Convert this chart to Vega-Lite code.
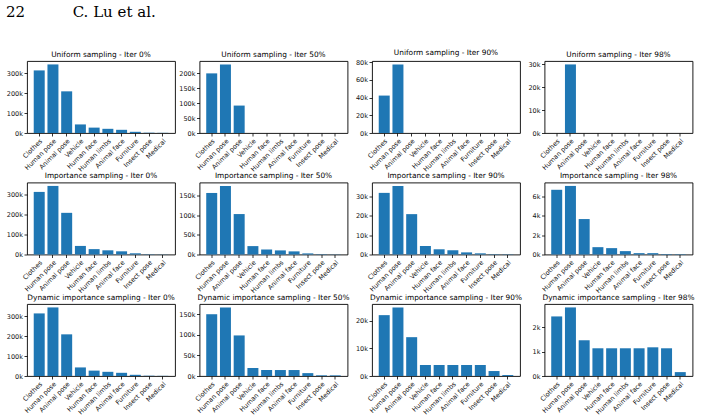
{
  "$schema": "https://vega.github.io/schema/vega-lite/v6.json",
  "padding": {"left": 5, "top": 5, "right": 5, "bottom": 5},
  "background": "white",
  "title": {"text": "22\u00a0\u00a0\u00a0\u00a0\u00a0\u00a0\u00a0\u00a0\u00a0\u00a0C. Lu et al.", "anchor": "start", "font": "DejaVu Serif", "fontSize": 15, "fontWeight": "normal", "color": "#000", "offset": 28},
  "columns": 4,
  "bounds": "flush",
  "spacing": {"row": 49.5, "column": 24.5},
  "datasets": {
    "counts": [
      {"panel": "U0", "category": "Clothes", "count": 314000},
      {"panel": "U0", "category": "Human pose", "count": 344000},
      {"panel": "U0", "category": "Animal pose", "count": 209000},
      {"panel": "U0", "category": "Vehicle", "count": 43000},
      {"panel": "U0", "category": "Human face", "count": 27000},
      {"panel": "U0", "category": "Human limbs", "count": 21000},
      {"panel": "U0", "category": "Animal face", "count": 16000},
      {"panel": "U0", "category": "Furniture", "count": 6000},
      {"panel": "U0", "category": "Insect pose", "count": 1500},
      {"panel": "U0", "category": "Medical", "count": 800},
      {"panel": "U50", "category": "Clothes", "count": 200000},
      {"panel": "U50", "category": "Human pose", "count": 230000},
      {"panel": "U50", "category": "Animal pose", "count": 92000},
      {"panel": "U50", "category": "Vehicle", "count": 0},
      {"panel": "U50", "category": "Human face", "count": 0},
      {"panel": "U50", "category": "Human limbs", "count": 0},
      {"panel": "U50", "category": "Animal face", "count": 0},
      {"panel": "U50", "category": "Furniture", "count": 0},
      {"panel": "U50", "category": "Insect pose", "count": 0},
      {"panel": "U50", "category": "Medical", "count": 0},
      {"panel": "U90", "category": "Clothes", "count": 42300},
      {"panel": "U90", "category": "Human pose", "count": 77500},
      {"panel": "U90", "category": "Animal pose", "count": 0},
      {"panel": "U90", "category": "Vehicle", "count": 0},
      {"panel": "U90", "category": "Human face", "count": 0},
      {"panel": "U90", "category": "Human limbs", "count": 0},
      {"panel": "U90", "category": "Animal face", "count": 0},
      {"panel": "U90", "category": "Furniture", "count": 0},
      {"panel": "U90", "category": "Insect pose", "count": 0},
      {"panel": "U90", "category": "Medical", "count": 0},
      {"panel": "U98", "category": "Clothes", "count": 0},
      {"panel": "U98", "category": "Human pose", "count": 30000},
      {"panel": "U98", "category": "Animal pose", "count": 0},
      {"panel": "U98", "category": "Vehicle", "count": 0},
      {"panel": "U98", "category": "Human face", "count": 0},
      {"panel": "U98", "category": "Human limbs", "count": 0},
      {"panel": "U98", "category": "Animal face", "count": 0},
      {"panel": "U98", "category": "Furniture", "count": 0},
      {"panel": "U98", "category": "Insect pose", "count": 0},
      {"panel": "U98", "category": "Medical", "count": 0},
      {"panel": "I0", "category": "Clothes", "count": 314000},
      {"panel": "I0", "category": "Human pose", "count": 344000},
      {"panel": "I0", "category": "Animal pose", "count": 209000},
      {"panel": "I0", "category": "Vehicle", "count": 43000},
      {"panel": "I0", "category": "Human face", "count": 27000},
      {"panel": "I0", "category": "Human limbs", "count": 21000},
      {"panel": "I0", "category": "Animal face", "count": 16000},
      {"panel": "I0", "category": "Furniture", "count": 6000},
      {"panel": "I0", "category": "Insect pose", "count": 1500},
      {"panel": "I0", "category": "Medical", "count": 800},
      {"panel": "I50", "category": "Clothes", "count": 157500},
      {"panel": "I50", "category": "Human pose", "count": 175500},
      {"panel": "I50", "category": "Animal pose", "count": 103500},
      {"panel": "I50", "category": "Vehicle", "count": 21500},
      {"panel": "I50", "category": "Human face", "count": 13000},
      {"panel": "I50", "category": "Human limbs", "count": 10500},
      {"panel": "I50", "category": "Animal face", "count": 8000},
      {"panel": "I50", "category": "Furniture", "count": 2800},
      {"panel": "I50", "category": "Insect pose", "count": 900},
      {"panel": "I50", "category": "Medical", "count": 500},
      {"panel": "I90", "category": "Clothes", "count": 31900},
      {"panel": "I90", "category": "Human pose", "count": 35500},
      {"panel": "I90", "category": "Animal pose", "count": 20900},
      {"panel": "I90", "category": "Vehicle", "count": 4400},
      {"panel": "I90", "category": "Human face", "count": 2700},
      {"panel": "I90", "category": "Human limbs", "count": 2200},
      {"panel": "I90", "category": "Animal face", "count": 1100},
      {"panel": "I90", "category": "Furniture", "count": 600},
      {"panel": "I90", "category": "Insect pose", "count": 200},
      {"panel": "I90", "category": "Medical", "count": 150},
      {"panel": "I98", "category": "Clothes", "count": 6700},
      {"panel": "I98", "category": "Human pose", "count": 7100},
      {"panel": "I98", "category": "Animal pose", "count": 3670},
      {"panel": "I98", "category": "Vehicle", "count": 760},
      {"panel": "I98", "category": "Human face", "count": 660},
      {"panel": "I98", "category": "Human limbs", "count": 350},
      {"panel": "I98", "category": "Animal face", "count": 140},
      {"panel": "I98", "category": "Furniture", "count": 140},
      {"panel": "I98", "category": "Insect pose", "count": 50},
      {"panel": "I98", "category": "Medical", "count": 40},
      {"panel": "D0", "category": "Clothes", "count": 314000},
      {"panel": "D0", "category": "Human pose", "count": 344000},
      {"panel": "D0", "category": "Animal pose", "count": 209000},
      {"panel": "D0", "category": "Vehicle", "count": 43000},
      {"panel": "D0", "category": "Human face", "count": 27000},
      {"panel": "D0", "category": "Human limbs", "count": 21000},
      {"panel": "D0", "category": "Animal face", "count": 16000},
      {"panel": "D0", "category": "Furniture", "count": 6000},
      {"panel": "D0", "category": "Insect pose", "count": 1500},
      {"panel": "D0", "category": "Medical", "count": 800},
      {"panel": "D50", "category": "Clothes", "count": 150000},
      {"panel": "D50", "category": "Human pose", "count": 166500},
      {"panel": "D50", "category": "Animal pose", "count": 98500},
      {"panel": "D50", "category": "Vehicle", "count": 19500},
      {"panel": "D50", "category": "Human face", "count": 14500},
      {"panel": "D50", "category": "Human limbs", "count": 14500},
      {"panel": "D50", "category": "Animal face", "count": 14500},
      {"panel": "D50", "category": "Furniture", "count": 7000},
      {"panel": "D50", "category": "Insect pose", "count": 1600},
      {"panel": "D50", "category": "Medical", "count": 1500},
      {"panel": "D90", "category": "Clothes", "count": 22100},
      {"panel": "D90", "category": "Human pose", "count": 24900},
      {"panel": "D90", "category": "Animal pose", "count": 14100},
      {"panel": "D90", "category": "Vehicle", "count": 4000},
      {"panel": "D90", "category": "Human face", "count": 4000},
      {"panel": "D90", "category": "Human limbs", "count": 4000},
      {"panel": "D90", "category": "Animal face", "count": 4000},
      {"panel": "D90", "category": "Furniture", "count": 4000},
      {"panel": "D90", "category": "Insect pose", "count": 1800},
      {"panel": "D90", "category": "Medical", "count": 350},
      {"panel": "D98", "category": "Clothes", "count": 2450},
      {"panel": "D98", "category": "Human pose", "count": 2820},
      {"panel": "D98", "category": "Animal pose", "count": 1470},
      {"panel": "D98", "category": "Vehicle", "count": 1140},
      {"panel": "D98", "category": "Human face", "count": 1140},
      {"panel": "D98", "category": "Human limbs", "count": 1140},
      {"panel": "D98", "category": "Animal face", "count": 1140},
      {"panel": "D98", "category": "Furniture", "count": 1180},
      {"panel": "D98", "category": "Insect pose", "count": 1140},
      {"panel": "D98", "category": "Medical", "count": 160}
    ]
  },
  "concat": [
    {"title": "Uniform sampling - Iter 0%", "width": 148, "height": 72, "data": {"name": "counts"}, "transform": [{"filter": {"field": "panel", "equal": "U0"}}], "mark": "bar",
     "encoding": {"x": {"field": "category", "type": "nominal", "sort": null, "title": null, "scale": {"paddingInner": 0.2, "paddingOuter": 0.49}},
                  "y": {"field": "count", "type": "quantitative", "title": null, "scale": {"domain": [0, 361200], "nice": false}, "axis": {"values": [0, 100000, 200000, 300000]}}}},
    {"title": "Uniform sampling - Iter 50%", "width": 148, "height": 72, "data": {"name": "counts"}, "transform": [{"filter": {"field": "panel", "equal": "U50"}}], "mark": "bar",
     "encoding": {"x": {"field": "category", "type": "nominal", "sort": null, "title": null, "scale": {"paddingInner": 0.2, "paddingOuter": 0.49}},
                  "y": {"field": "count", "type": "quantitative", "title": null, "scale": {"domain": [0, 241500], "nice": false}, "axis": {"values": [0, 50000, 100000, 150000, 200000]}}}},
    {"title": "Uniform sampling - Iter 90%", "width": 148, "height": 72, "data": {"name": "counts"}, "transform": [{"filter": {"field": "panel", "equal": "U90"}}], "mark": "bar",
     "encoding": {"x": {"field": "category", "type": "nominal", "sort": null, "title": null, "scale": {"paddingInner": 0.2, "paddingOuter": 0.49}},
                  "y": {"field": "count", "type": "quantitative", "title": null, "scale": {"domain": [0, 81375], "nice": false}, "axis": {"values": [0, 20000, 40000, 60000, 80000]}}}},
    {"title": "Uniform sampling - Iter 98%", "width": 148, "height": 72, "data": {"name": "counts"}, "transform": [{"filter": {"field": "panel", "equal": "U98"}}], "mark": "bar",
     "encoding": {"x": {"field": "category", "type": "nominal", "sort": null, "title": null, "scale": {"paddingInner": 0.2, "paddingOuter": 0.49}},
                  "y": {"field": "count", "type": "quantitative", "title": null, "scale": {"domain": [0, 31500], "nice": false}, "axis": {"values": [0, 10000, 20000, 30000]}}}},
    {"title": "Importance sampling - Iter 0%", "width": 148, "height": 72, "data": {"name": "counts"}, "transform": [{"filter": {"field": "panel", "equal": "I0"}}], "mark": "bar",
     "encoding": {"x": {"field": "category", "type": "nominal", "sort": null, "title": null, "scale": {"paddingInner": 0.2, "paddingOuter": 0.49}},
                  "y": {"field": "count", "type": "quantitative", "title": null, "scale": {"domain": [0, 361200], "nice": false}, "axis": {"values": [0, 100000, 200000, 300000]}}}},
    {"title": "Importance sampling - Iter 50%", "width": 148, "height": 72, "data": {"name": "counts"}, "transform": [{"filter": {"field": "panel", "equal": "I50"}}], "mark": "bar",
     "encoding": {"x": {"field": "category", "type": "nominal", "sort": null, "title": null, "scale": {"paddingInner": 0.2, "paddingOuter": 0.49}},
                  "y": {"field": "count", "type": "quantitative", "title": null, "scale": {"domain": [0, 184275], "nice": false}, "axis": {"values": [0, 50000, 100000, 150000]}}}},
    {"title": "Importance sampling - Iter 90%", "width": 148, "height": 72, "data": {"name": "counts"}, "transform": [{"filter": {"field": "panel", "equal": "I90"}}], "mark": "bar",
     "encoding": {"x": {"field": "category", "type": "nominal", "sort": null, "title": null, "scale": {"paddingInner": 0.2, "paddingOuter": 0.49}},
                  "y": {"field": "count", "type": "quantitative", "title": null, "scale": {"domain": [0, 37275], "nice": false}, "axis": {"values": [0, 10000, 20000, 30000]}}}},
    {"title": "Importance sampling - Iter 98%", "width": 148, "height": 72, "data": {"name": "counts"}, "transform": [{"filter": {"field": "panel", "equal": "I98"}}], "mark": "bar",
     "encoding": {"x": {"field": "category", "type": "nominal", "sort": null, "title": null, "scale": {"paddingInner": 0.2, "paddingOuter": 0.49}},
                  "y": {"field": "count", "type": "quantitative", "title": null, "scale": {"domain": [0, 7455], "nice": false}, "axis": {"values": [0, 2000, 4000, 6000]}}}},
    {"title": "Dynamic importance sampling - Iter 0%", "width": 148, "height": 72, "data": {"name": "counts"}, "transform": [{"filter": {"field": "panel", "equal": "D0"}}], "mark": "bar",
     "encoding": {"x": {"field": "category", "type": "nominal", "sort": null, "title": null, "scale": {"paddingInner": 0.2, "paddingOuter": 0.49}},
                  "y": {"field": "count", "type": "quantitative", "title": null, "scale": {"domain": [0, 361200], "nice": false}, "axis": {"values": [0, 100000, 200000, 300000]}}}},
    {"title": "Dynamic importance sampling - Iter 50%", "width": 148, "height": 72, "data": {"name": "counts"}, "transform": [{"filter": {"field": "panel", "equal": "D50"}}], "mark": "bar",
     "encoding": {"x": {"field": "category", "type": "nominal", "sort": null, "title": null, "scale": {"paddingInner": 0.2, "paddingOuter": 0.49}},
                  "y": {"field": "count", "type": "quantitative", "title": null, "scale": {"domain": [0, 174825], "nice": false}, "axis": {"values": [0, 50000, 100000, 150000]}}}},
    {"title": "Dynamic importance sampling - Iter 90%", "width": 148, "height": 72, "data": {"name": "counts"}, "transform": [{"filter": {"field": "panel", "equal": "D90"}}], "mark": "bar",
     "encoding": {"x": {"field": "category", "type": "nominal", "sort": null, "title": null, "scale": {"paddingInner": 0.2, "paddingOuter": 0.49}},
                  "y": {"field": "count", "type": "quantitative", "title": null, "scale": {"domain": [0, 26145], "nice": false}, "axis": {"values": [0, 10000, 20000]}}}},
    {"title": "Dynamic importance sampling - Iter 98%", "width": 148, "height": 72, "data": {"name": "counts"}, "transform": [{"filter": {"field": "panel", "equal": "D98"}}], "mark": "bar",
     "encoding": {"x": {"field": "category", "type": "nominal", "sort": null, "title": null, "scale": {"paddingInner": 0.2, "paddingOuter": 0.49}},
                  "y": {"field": "count", "type": "quantitative", "title": null, "scale": {"domain": [0, 2961], "nice": false}, "axis": {"values": [0, 1000, 2000]}}}}
  ],
  "config": {
    "view": {"stroke": "#000", "strokeWidth": 0.9},
    "bar": {"color": "#1f77b4"},
    "axis": {"domain": false, "grid": false, "tickColor": "#000", "tickSize": 3, "tickWidth": 0.8, "labelFont": "DejaVu Sans", "labelFontSize": 6.5, "labelColor": "#111", "labelPadding": 1.5},
    "axisX": {"labelAngle": -45, "labelAlign": "right", "labelBaseline": "top"},
    "axisY": {"format": "~s"},
    "title": {"font": "DejaVu Sans", "fontSize": 7.4, "fontWeight": "normal", "color": "#000", "offset": 3}
  }
}
